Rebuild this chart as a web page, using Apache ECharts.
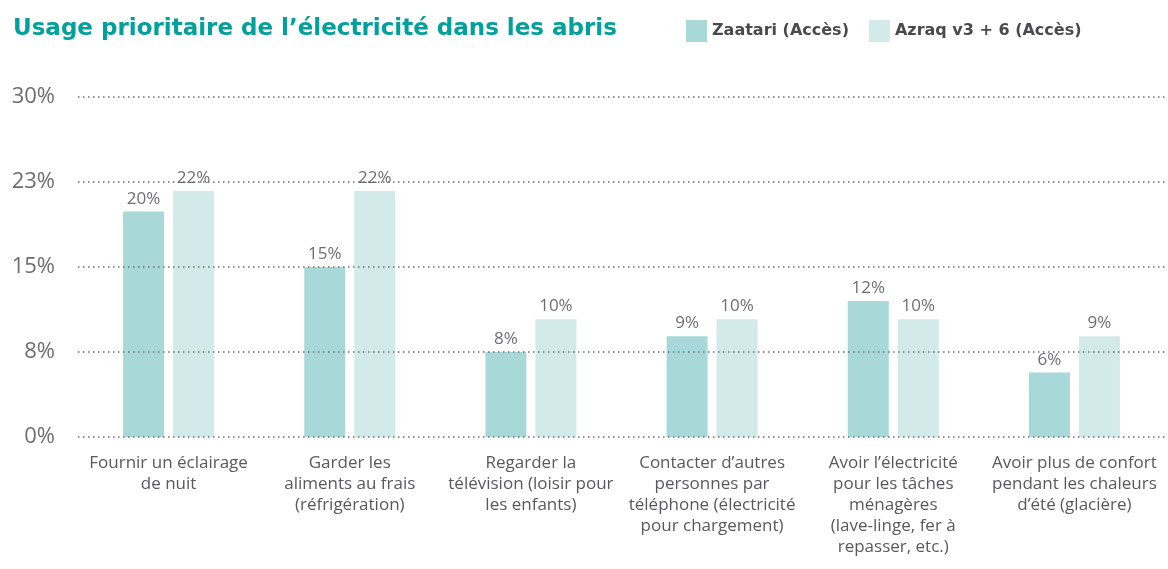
<!DOCTYPE html>
<html>
<head>
<meta charset="utf-8">
<script src="https://cdn.jsdelivr.net/npm/echarts@6/dist/echarts.min.js"></script>
<style>
  html, body { margin: 0; padding: 0; background: #fff; }
  #chart { width: 1168px; height: 569px; }
</style>
</head>
<body>
<div id="chart"></div>
<script>
var categories = [
  "Fournir un éclairage\nde nuit",
  "Garder les\naliments au frais\n(réfrigération)",
  "Regarder la\ntélévision (loisir pour\nles enfants)",
  "Contacter d’autres\npersonnes par\ntéléphone (électricité\npour chargement)",
  "Avoir l’électricité\npour les tâches\nménagères\n(lave-linge, fer à\nrepasser, etc.)",
  "Avoir plus de confort\npendant les chaleurs\nd’été (glacière)"
];
var zaatari = [19.9, 15.0, 7.5, 8.9, 12.0, 5.7];
var azraq = [21.7, 21.7, 10.4, 10.4, 10.4, 8.9];
var seriesNames = ["Zaatari (Accès)", "Azraq v3 + 6 (Accès)"];

var font = "'Open Sans', Lato, sans-serif";
var boldFont = "'DejaVu Sans', 'Open Sans', sans-serif";
var chart = echarts.init(document.getElementById("chart"));

var barLabel = {
  show: true,
  position: "top",
  distance: 4,
  color: "#6d6e71",
  fontSize: 17,
  fontFamily: font,
  formatter: function(p){
    return Math.round(p.value) + "%";
  }
};

chart.setOption({
  animation: false,
  title: {
    text: "Usage prioritaire de l’électricité dans les abris",
    left: 8,
    top: 13,
    textStyle: {
      color: "#00a19a",
      fontSize: 23,
      fontWeight: "bold",
      fontFamily: boldFont
    }
  },
  legend: {
    left: 681,
    top: 15,
    itemWidth: 21,
    itemHeight: 22,
    itemGap: 20,
    icon: "rect",
    data: seriesNames,
    textStyle: {
      color: "#4a4a4c",
      fontSize: 16,
      fontWeight: "bold",
      fontFamily: boldFont
    }
  },
  grid: {
    left: 78,
    right: 3,
    top: 97,
    bottom: 132
  },
  xAxis: {
    type: "category",
    data: categories,
    axisLine: { show: false },
    axisTick: { show: false },
    axisLabel: {
      interval: 0,
      margin: 16,
      color: "#58595b",
      fontSize: 17,
      lineHeight: 21,
      fontFamily: font
    }
  },
  yAxis: {
    type: "value",
    min: 0,
    max: 30,
    interval: 7.5,
    z: 5,
    axisLine: { show: false },
    axisTick: { show: false },
    axisLabel: {
      margin: 23,
      color: "#6d6e71",
      fontSize: 22,
      fontFamily: font,
      formatter: function(v){
        return Math.round(v) + "%";
      }
    },
    splitLine: {
      lineStyle: {
        color: "#6d6e71",
        width: 1.5,
        type: [1.5, 3.5]
      }
    }
  },
  series: [{
    name: seriesNames[0],
    type: "bar",
    data: zaatari,
    barWidth: 41,
    barGap: "22%",
    itemStyle: { color: "#a9d8d8" },
    label: barLabel
  }, {
    name: seriesNames[1],
    type: "bar",
    data: azraq,
    barWidth: 41,
    itemStyle: { color: "#d3eaeb" },
    label: barLabel
  }]
});
</script>
</body>
</html>
